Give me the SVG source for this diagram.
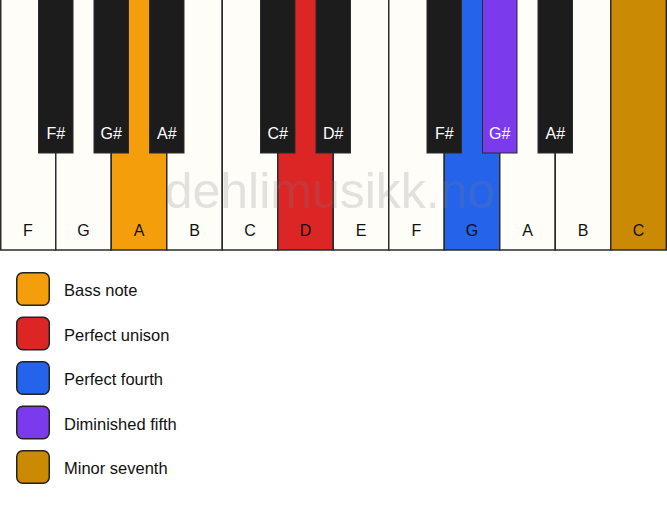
<svg xmlns="http://www.w3.org/2000/svg" width="667" height="506" viewBox="0 0 667 506">
<style>
.w{fill:#fffdf8;stroke:#2b2b2b;stroke-width:1.5}
.b{fill:#1c1c1c;stroke:#2b2b2b;stroke-width:1}
.lw{font-family:"Liberation Sans",Arial,sans-serif;font-size:16px;fill:#111;text-anchor:middle}
.lb{font-family:"Liberation Sans",Arial,sans-serif;font-size:16px;fill:#fff;text-anchor:middle}
.sw{stroke:#222;stroke-width:1.5}
.lt{font-family:"Liberation Sans",Arial,sans-serif;font-size:16.5px;fill:#111}
</style>
<rect width="667" height="506" fill="#ffffff"/>
<g id="white-keys">
<g id="wF1"><rect class="w" x="0.75" y="-1" width="55" height="251"/><text class="lw" x="28" y="236">F</text></g>
<g id="wG1"><rect class="w" x="55.75" y="-1" width="55.5" height="251"/><text class="lw" x="83.5" y="236">G</text></g>
<g id="wA1"><rect class="w" x="111.25" y="-1" width="55.5" height="251" style="fill:#f59e0b"/><text class="lw" x="139" y="236">A</text></g>
<g id="wB1"><rect class="w" x="166.75" y="-1" width="55.5" height="251"/><text class="lw" x="194.5" y="236">B</text></g>
<g id="wC1"><rect class="w" x="222.25" y="-1" width="55.5" height="251"/><text class="lw" x="250" y="236">C</text></g>
<g id="wD1"><rect class="w" x="277.75" y="-1" width="55.5" height="251" style="fill:#dc2626"/><text class="lw" x="305.5" y="236">D</text></g>
<g id="wE1"><rect class="w" x="333.25" y="-1" width="55.5" height="251"/><text class="lw" x="361" y="236">E</text></g>
<g id="wF2"><rect class="w" x="388.75" y="-1" width="55.5" height="251"/><text class="lw" x="416.5" y="236">F</text></g>
<g id="wG2"><rect class="w" x="444.25" y="-1" width="55.5" height="251" style="fill:#2563eb"/><text class="lw" x="472" y="236">G</text></g>
<g id="wA2"><rect class="w" x="499.75" y="-1" width="55.5" height="251"/><text class="lw" x="527.5" y="236">A</text></g>
<g id="wB2"><rect class="w" x="555.25" y="-1" width="55.5" height="251"/><text class="lw" x="583" y="236">B</text></g>
<g id="wC2"><rect class="w" x="610.75" y="-1" width="55.5" height="251" style="fill:#ca8a04"/><text class="lw" x="638.5" y="236">C</text></g>
</g>
<g id="black-keys">
<g id="bFs1"><rect class="b" x="38.5" y="-1" width="34.5" height="154"/><text class="lb" x="55.75" y="139">F#</text></g>
<g id="bGs1"><rect class="b" x="94" y="-1" width="34.5" height="154"/><text class="lb" x="111.25" y="139">G#</text></g>
<g id="bAs1"><rect class="b" x="149.5" y="-1" width="34.5" height="154"/><text class="lb" x="166.75" y="139">A#</text></g>
<g id="bCs1"><rect class="b" x="260.5" y="-1" width="34.5" height="154"/><text class="lb" x="277.75" y="139">C#</text></g>
<g id="bDs1"><rect class="b" x="316" y="-1" width="34.5" height="154"/><text class="lb" x="333.25" y="139">D#</text></g>
<g id="bFs2"><rect class="b" x="427" y="-1" width="34.5" height="154"/><text class="lb" x="444.25" y="139">F#</text></g>
<g id="bGs2"><rect class="b" x="482.5" y="-1" width="34.5" height="154" style="fill:#7c3aed"/><text class="lb" x="499.75" y="139">G#</text></g>
<g id="bAs2"><rect class="b" x="538" y="-1" width="34.5" height="154"/><text class="lb" x="555.25" y="139">A#</text></g>
</g>
<text id="watermark" x="330" y="208" font-family="'Liberation Sans',Arial,sans-serif" font-size="50" fill="#808080" fill-opacity="0.22" text-anchor="middle">dehlimusikk.no</text>
<g id="legend">
<g id="leg-bass"><rect class="sw" x="16.75" y="272.75" width="32.5" height="32.5" rx="6" fill="#f59e0b"/><text class="lt" x="64" y="296">Bass note</text></g>
<g id="leg-unison"><rect class="sw" x="16.75" y="317.25" width="32.5" height="32.5" rx="6" fill="#dc2626"/><text class="lt" x="64" y="340.5">Perfect unison</text></g>
<g id="leg-fourth"><rect class="sw" x="16.75" y="361.75" width="32.5" height="32.5" rx="6" fill="#2563eb"/><text class="lt" x="64" y="385">Perfect fourth</text></g>
<g id="leg-dim5"><rect class="sw" x="16.75" y="406.25" width="32.5" height="32.5" rx="6" fill="#7c3aed"/><text class="lt" x="64" y="429.5">Diminished fifth</text></g>
<g id="leg-min7"><rect class="sw" x="16.75" y="450.75" width="32.5" height="32.5" rx="6" fill="#ca8a04"/><text class="lt" x="64" y="474">Minor seventh</text></g>
</g>
</svg>
